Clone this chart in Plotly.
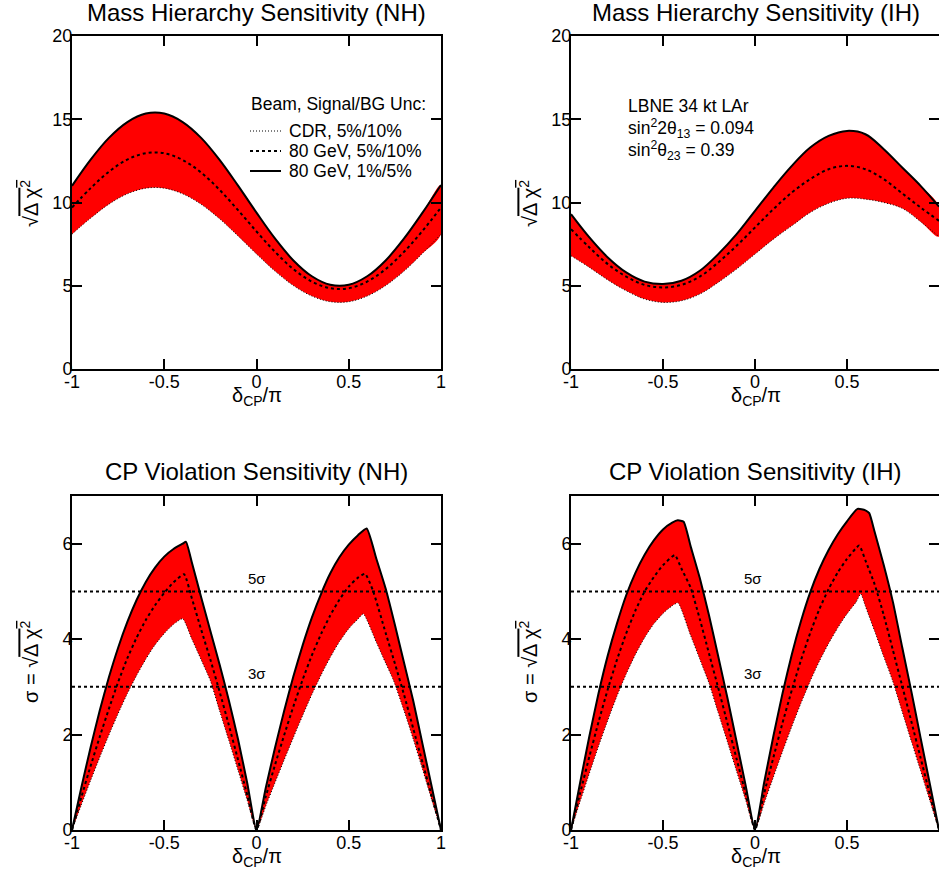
import plotly.graph_objects as go

FONT = "Liberation Sans, Arial, Helvetica, sans-serif"
W, H = 939, 873

# ---------------- data: mass hierarchy (top panels) ----------------
x_mh = [-1.0, -0.9, -0.8, -0.7, -0.6, -0.5, -0.4, -0.3, -0.2, -0.1, 0.0,
        0.1, 0.2, 0.3, 0.4, 0.5, 0.6, 0.7, 0.8, 0.9, 1.0]
nh_mh_solid = [11.0, 12.56, 13.88, 14.83, 15.34, 15.34, 14.83, 13.88, 12.56, 11.01, 9.39,
               7.84, 6.52, 5.57, 5.06, 5.06, 5.57, 6.52, 7.84, 9.39, 11.05]
nh_mh_dash = [9.7, 10.85, 11.85, 12.58, 12.96, 12.96, 12.55, 11.8, 10.76, 9.54, 8.26,
              7.04, 6.0, 5.25, 4.85, 4.85, 5.25, 6.0, 7.04, 8.3, 9.7]
nh_mh_cdr = [8.1, 9.05, 9.9, 10.52, 10.86, 10.86, 10.52, 9.89, 9.02, 7.99, 6.91,
             5.88, 5.01, 4.38, 4.04, 4.04, 4.38, 5.01, 5.88, 6.95, 8.1]
ih_mh_solid = [9.3, 7.9, 6.7, 5.8, 5.25, 5.1, 5.3, 5.9, 6.9, 8.1, 9.5,
               10.9, 12.2, 13.3, 14.0, 14.3, 14.1, 13.2, 12.1, 11.0, 9.75]
ih_mh_dash = [8.4, 7.3, 6.3, 5.55, 5.05, 4.9, 5.05, 5.55, 6.4, 7.4, 8.5,
              9.6, 10.6, 11.4, 12.0, 12.2, 12.0, 11.4, 10.55, 9.7, 8.9]
ih_mh_cdr = [6.8, 6.1, 5.35, 4.7, 4.2, 4.0, 4.1, 4.5, 5.2, 6.0, 6.9,
             7.8, 8.6, 9.4, 9.95, 10.25, 10.2, 10.0, 9.65, 8.85, 7.95]

# ---------------- data: CP violation (bottom panels) ----------------
nh_cp_solid_x = [-1, -0.95, -0.9, -0.85, -0.8, -0.75, -0.7, -0.65, -0.6, -0.55, -0.5, -0.45, -0.4, -0.382,
                 -0.35, -0.3, -0.25, -0.2, -0.15, -0.1, -0.05, 0,
                 0.05, 0.1, 0.15, 0.2, 0.25, 0.3, 0.35, 0.4, 0.45, 0.5, 0.55, 0.597,
                 0.65, 0.7, 0.75, 0.8, 0.85, 0.9, 0.95, 1]
nh_cp_solid_y = [0, 0.88, 1.72, 2.5, 3.2, 3.82, 4.36, 4.82, 5.2, 5.5, 5.73, 5.89, 6.0, 6.04,
                 5.6, 4.88, 4.17, 3.47, 2.72, 1.9, 0.98, 0,
                 0.88, 1.72, 2.5, 3.22, 3.87, 4.45, 4.95, 5.38, 5.72, 5.98, 6.18, 6.32,
                 5.68, 5.06, 4.3, 3.5, 2.7, 1.8, 0.9, 0]
nh_cp_dash_x = [-1, -0.95, -0.9, -0.85, -0.8, -0.75, -0.7, -0.65, -0.6, -0.55, -0.5, -0.45, -0.393,
                -0.35, -0.3, -0.25, -0.2, -0.15, -0.1, -0.05, 0,
                0.05, 0.1, 0.15, 0.2, 0.25, 0.3, 0.35, 0.4, 0.45, 0.5, 0.55, 0.588,
                0.63, 0.7, 0.75, 0.8, 0.85, 0.9, 0.95, 1]
nh_cp_dash_y = [0, 0.68, 1.33, 1.95, 2.54, 3.1, 3.6, 4.03, 4.4, 4.71, 4.97, 5.19, 5.36,
                4.85, 4.2, 3.57, 2.9, 2.2, 1.47, 0.73, 0,
                0.7, 1.36, 1.99, 2.59, 3.15, 3.66, 4.11, 4.5, 4.83, 5.1, 5.29, 5.37,
                5.03, 4.13, 3.49, 2.83, 2.12, 1.41, 0.7, 0]
nh_cp_cdr_x = [-1, -0.95, -0.9, -0.85, -0.8, -0.75, -0.7, -0.65, -0.6, -0.55, -0.5, -0.45, -0.4,
               -0.35, -0.3, -0.25, -0.2, -0.15, -0.1, -0.05, 0,
               0.05, 0.1, 0.15, 0.2, 0.25, 0.3, 0.35, 0.4, 0.45, 0.5, 0.55, 0.579,
               0.65, 0.7, 0.742, 0.8, 0.85, 0.9, 0.95, 1]
nh_cp_cdr_y = [0, 0.52, 1.03, 1.52, 1.99, 2.44, 2.86, 3.24, 3.58, 3.88, 4.12, 4.31, 4.43,
               4.0, 3.57, 3.13, 2.5, 1.88, 1.25, 0.62, 0,
               0.5, 0.99, 1.47, 1.94, 2.4, 2.84, 3.25, 3.62, 3.95, 4.22, 4.42, 4.53,
               3.93, 3.5, 3.14, 2.5, 1.9, 1.27, 0.63, 0]

ih_cp_solid_x = [-1, -0.95, -0.9, -0.85, -0.8, -0.75, -0.7, -0.65, -0.6, -0.55, -0.5, -0.45, -0.42, -0.388,
                 -0.35, -0.3, -0.25, -0.2, -0.15, -0.1, -0.05, 0,
                 0.05, 0.1, 0.15, 0.2, 0.25, 0.3, 0.35, 0.4, 0.45, 0.5, 0.557, 0.6, 0.621,
                 0.65, 0.7, 0.75, 0.8, 0.85, 0.9, 0.95, 1]
ih_cp_solid_y = [0, 1.0, 1.97, 2.87, 3.66, 4.33, 4.92, 5.39, 5.77, 6.07, 6.3, 6.44, 6.49, 6.46,
                 5.95, 5.28, 4.5, 3.64, 2.77, 1.85, 0.92, 0,
                 1.0, 1.97, 2.87, 3.68, 4.38, 4.98, 5.47, 5.87, 6.2, 6.47, 6.73, 6.7, 6.64,
                 6.25, 5.55, 4.77, 3.83, 2.9, 1.93, 0.97, 0]
ih_cp_dash_x = [-1, -0.95, -0.9, -0.85, -0.8, -0.75, -0.7, -0.65, -0.6, -0.55, -0.5, -0.436,
                -0.4, -0.35, -0.3, -0.25, -0.2, -0.15, -0.1, -0.05, 0,
                0.05, 0.1, 0.15, 0.2, 0.25, 0.3, 0.35, 0.4, 0.45, 0.5, 0.566,
                0.6, 0.65, 0.7, 0.75, 0.8, 0.85, 0.9, 0.95, 1]
ih_cp_dash_y = [0, 0.78, 1.54, 2.27, 2.95, 3.57, 4.12, 4.6, 5.0, 5.3, 5.55, 5.76,
                5.48, 5.08, 4.42, 3.7, 2.98, 2.24, 1.49, 0.75, 0,
                0.77, 1.52, 2.25, 2.93, 3.56, 4.13, 4.63, 5.05, 5.4, 5.68, 5.96,
                5.65, 5.15, 4.5, 3.76, 3.02, 2.27, 1.51, 0.75, 0]
ih_cp_cdr_x = [-1, -0.95, -0.9, -0.85, -0.8, -0.75, -0.7, -0.65, -0.6, -0.55, -0.5, -0.45, -0.418,
               -0.35, -0.3, -0.25, -0.2, -0.15, -0.1, -0.05, 0,
               0.05, 0.1, 0.15, 0.2, 0.25, 0.3, 0.35, 0.4, 0.45, 0.5, 0.55, 0.575,
               0.6, 0.65, 0.7, 0.747, 0.8, 0.85, 0.9, 0.95, 1]
ih_cp_cdr_y = [0, 0.6, 1.19, 1.76, 2.3, 2.81, 3.27, 3.68, 4.03, 4.32, 4.54, 4.7, 4.76,
               4.08, 3.58, 3.08, 2.46, 1.85, 1.23, 0.62, 0,
               0.56, 1.11, 1.65, 2.17, 2.66, 3.12, 3.54, 3.91, 4.24, 4.53, 4.78, 4.95,
               4.69, 4.17, 3.63, 3.14, 2.48, 1.86, 1.24, 0.62, 0]

sigma_levels = [3, 5]
sigma_labels = ["3σ", "5σ"]

x_tickvals = [-1, -0.5, 0, 0.5, 1]
x_ticktext = ["-1", "-0.5", "0", "0.5", "1"]
mh_tickvals = [0, 5, 10, 15, 20]
mh_ticktext = ["0", "5", "10", "15", "20"]
cp_tickvals = [0, 2, 4, 6]
cp_ticktext = ["0", "2", "4", "6"]

titles = ["Mass Hierarchy Sensitivity (NH)", "Mass Hierarchy Sensitivity (IH)",
          "CP Violation Sensitivity (NH)", "CP Violation Sensitivity (IH)"]
legend_title = "Beam, Signal/BG Unc:"
legend_labels = ["CDR, 5%/10%", "80 GeV, 5%/10%", "80 GeV, 1%/5%"]
info_lines = ["LBNE 34 kt LAr", "sin<sup>2</sup>2θ<sub>13</sub> = 0.094",
              "sin<sup>2</sup>θ<sub>23</sub> = 0.39"]

# ---------------- layout geometry (pixels) ----------------
def px_x(p):
    return p / W

def px_y(p):
    return 1 - p / H

LEFT = (72, 441)
RIGHT = (571, 939)
TOP = (36, 369)
BOT = (496, 830)

fig = go.Figure()

STY_CDR = dict(color="black", width=1, dash="1px,2px")
STY_DASH = dict(color="black", width=2, dash="dot")
STY_SOLID = dict(color="black", width=2)


def band(xu, yu, xl, yl, xa, ya, shape="linear", smooth=1.0):
    fig.add_trace(go.Scatter(x=list(xu) + list(xl)[::-1], y=list(yu) + list(yl)[::-1],
                             fill="toself", fillcolor="#ff0000", mode="lines",
                             line=dict(width=0, shape=shape, smoothing=smooth),
                             xaxis=xa, yaxis=ya, showlegend=False, hoverinfo="skip"))


def line(x, y, sty, xa, ya, shape="linear", smooth=1.0):
    s = dict(sty)
    s["shape"] = shape
    if shape == "spline":
        s["smoothing"] = smooth
    fig.add_trace(go.Scatter(x=x, y=y, mode="lines", line=s, xaxis=xa, yaxis=ya,
                             showlegend=False))


# top panels
for (s, d, c, xa, ya) in [(nh_mh_solid, nh_mh_dash, nh_mh_cdr, "x", "y"),
                          (ih_mh_solid, ih_mh_dash, ih_mh_cdr, "x2", "y2")]:
    band(x_mh, s, x_mh, c, xa, ya, shape="spline")
    line(x_mh, c, STY_CDR, xa, ya, "spline")
    line(x_mh, d, STY_DASH, xa, ya, "spline")
    line(x_mh, s, STY_SOLID, xa, ya, "spline")

# bottom panels
SM = 0.5
for (sx, sy, dx, dy, cx, cy, xa, ya) in [
        (nh_cp_solid_x, nh_cp_solid_y, nh_cp_dash_x, nh_cp_dash_y, nh_cp_cdr_x, nh_cp_cdr_y, "x3", "y3"),
        (ih_cp_solid_x, ih_cp_solid_y, ih_cp_dash_x, ih_cp_dash_y, ih_cp_cdr_x, ih_cp_cdr_y, "x4", "y4")]:
    band(sx, sy, cx, cy, xa, ya, "spline", SM)
    line(cx, cy, STY_CDR, xa, ya, "spline", SM)
    line(dx, dy, STY_DASH, xa, ya, "spline", SM)
    line(sx, sy, STY_SOLID, xa, ya, "spline", SM)
    for lev in sigma_levels:
        line([-1, 1], [lev, lev], STY_DASH, xa, ya)

axis_common = dict(showline=True, linecolor="black", linewidth=2, mirror="ticks",
                   ticks="inside", ticklen=10, tickwidth=2, tickcolor="black",
                   showgrid=False, zeroline=False, automargin=False,
                   tickfont=dict(family=FONT, size=18, color="black"))

def xaxis(dom, anchor):
    return dict(axis_common, domain=[px_x(dom[0]), px_x(dom[1])], range=[-1, 1],
                tickvals=x_tickvals, ticktext=x_ticktext, anchor=anchor,
                ticklabelstandoff=-5)

def yaxis(dom, anchor, rng, tv, tt):
    return dict(axis_common, domain=[px_y(dom[1]), px_y(dom[0])], range=rng,
                tickvals=tv, ticktext=tt, anchor=anchor, ticklabelstandoff=-6)

fig.update_layout(
    width=W, height=H, margin=dict(l=0, r=0, t=0, b=0, autoexpand=False),
    paper_bgcolor="white", plot_bgcolor="white",
    font=dict(family=FONT, color="black"),
    showlegend=False,
    xaxis=xaxis(LEFT, "y"), yaxis=yaxis(TOP, "x", [0, 20], mh_tickvals, mh_ticktext),
    xaxis2=xaxis(RIGHT, "y2"), yaxis2=yaxis(TOP, "x2", [0, 20], mh_tickvals, mh_ticktext),
    xaxis3=xaxis(LEFT, "y3"), yaxis3=yaxis(BOT, "x3", [0, 7], cp_tickvals, cp_ticktext),
    xaxis4=xaxis(RIGHT, "y4"), yaxis4=yaxis(BOT, "x4", [0, 7], cp_tickvals, cp_ticktext),
)

ann = []
def text(x, y, t, size, xanchor="center", angle=0):
    ann.append(dict(x=px_x(x), y=px_y(y), xref="paper", yref="paper", text=t,
                    showarrow=False, xanchor=xanchor, yanchor="middle", textangle=angle,
                    font=dict(family=FONT, size=size, color="black")))

# panel titles
text(256.5, 13, titles[0], 24)
text(755.5, 13, titles[1], 24)
text(256.5, 471, titles[2], 24)
text(755.5, 471, titles[3], 24)

# x axis titles
xt = "δ<sub>CP</sub>/π"
text(256.5, 397, xt, 20)
text(755.5, 397, xt, 20)
text(256.5, 857, xt, 20)
text(755.5, 857, xt, 20)

# y axis titles
rad = "√<span style='text-decoration:overline'>Δ χ<sup>2</sup></span>"
text(29, 204, rad, 20, angle=-90)
text(528, 204, rad, 20, angle=-90)
text(29, 662, "σ = " + rad, 20, angle=-90)
text(528, 662, "σ = " + rad, 20, angle=-90)

# legend (top-left)
text(249, 104, legend_title, 17.5, xanchor="left")
for i, (lab, sty) in enumerate(zip(legend_labels, [STY_CDR, STY_DASH, STY_SOLID])):
    yy = 131 + 20 * i
    text(287, yy, lab, 17.5, xanchor="left")
    fig.add_shape(type="line", xref="paper", yref="paper",
                  x0=px_x(250), x1=px_x(281), y0=px_y(yy), y1=px_y(yy), line=sty)

# info (top-right)
for i, t in enumerate(info_lines):
    text(626, 106 + 22 * i, t, 17.5, xanchor="left")

# sigma labels
for lev, lab in zip(sigma_levels, sigma_labels):
    yy = 830 - lev * (830 - 496) / 7 - 13
    text(256.5, yy, lab, 15)
    text(753, yy, lab, 15)

fig.update_layout(annotations=ann)
fig.write_html("out.html", config={"displayModeBar": False},
               post_script="document.body.style.margin='0';")
